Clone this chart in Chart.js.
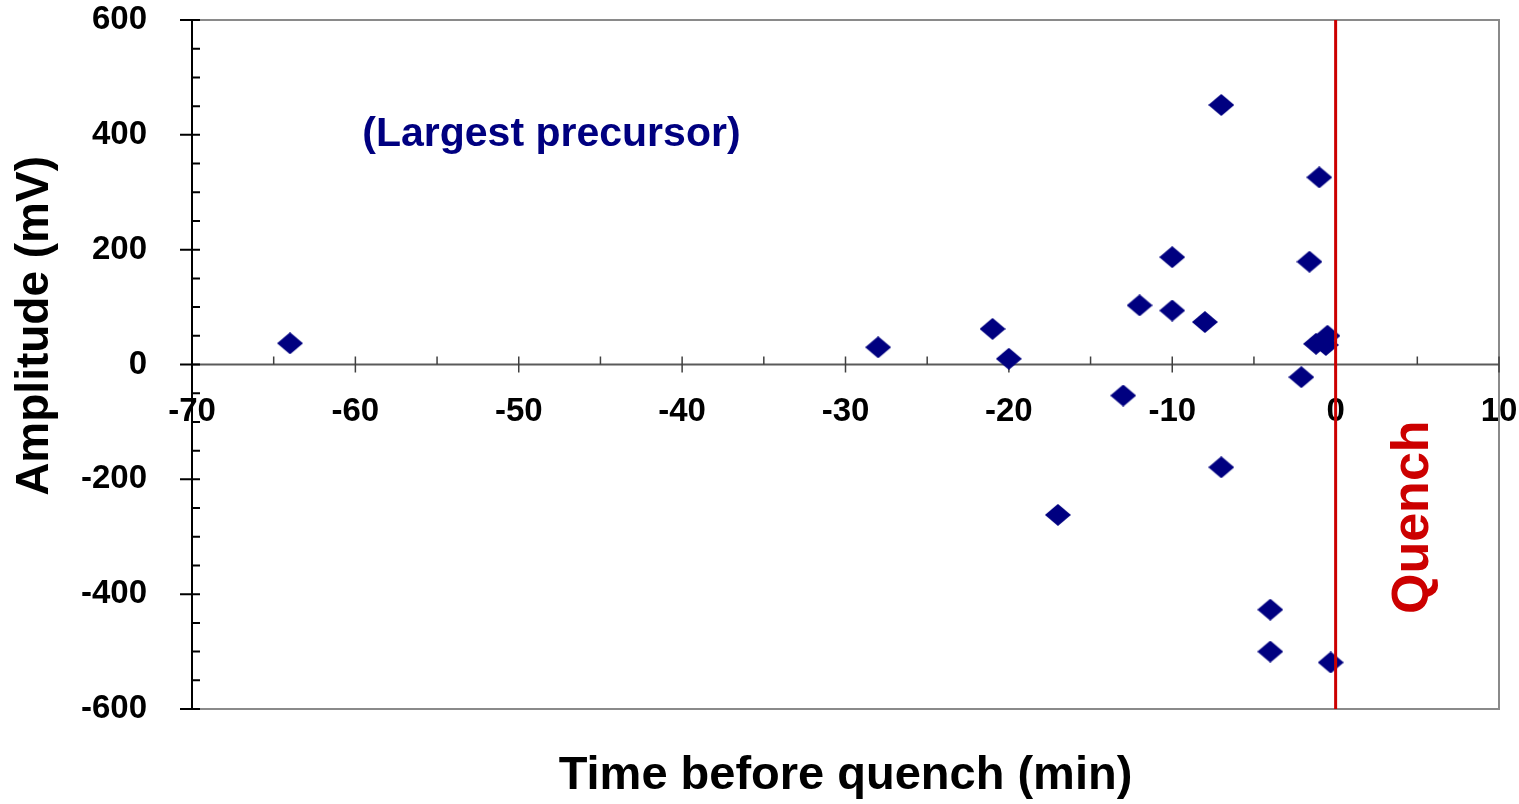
<!DOCTYPE html>
<html lang="en">
<head>
<meta charset="UTF-8">
<title>Largest precursor amplitude before quench</title>
<script src="https://cdn.jsdelivr.net/npm/chart.js"></script>
<style>
    html, body { margin: 0; padding: 0; background: #ffffff; }
    #chart { display: block; }
</style>
</head>
<body>
<canvas id="chart" width="1519" height="804"></canvas>
<script>
    // values
    const timeMin     = [-64, -28, -21, -20, -17, -13, -12, -10, -10, -8, -7, -7, -4, -4, -2.1, -1.6, -1.0, -1.2, -0.6, -0.5, -0.3];
    const amplitudeMv = [37, 30, 62, 10, -262, -54, 103, 187, 94, 74, 452, -179, -427, -500, -22, 179, 326, 36, 34, 50, -519];
    const xTicks = [-70, -60, -50, -40, -30, -20, -10, 0, 10];
    const yTicks = [-600, -400, -200, 0, 200, 400, 600];
    const quenchTime = 0;

    const FONT = '"Liberation Sans", Arial, Helvetica, sans-serif';
    const NAVY = '#000080';
    const RED = '#CC0000';

    // diamond marker, a bit wider than tall like the original
    function makeDiamond(w, h, color) {
        const c = document.createElement('canvas');
        c.width = w; c.height = h;
        const g = c.getContext('2d');
        g.fillStyle = color;
        g.beginPath();
        g.moveTo(0, h / 2);
        g.lineTo(w / 2, 0);
        g.lineTo(w, h / 2);
        g.lineTo(w / 2, h);
        g.closePath();
        g.fill();
        return c;
    }
    const diamond = makeDiamond(26, 22, NAVY);

    const points = timeMin.map((t, i) => ({ x: t, y: amplitudeMv[i] }));

    // the axes should not push the plot area in for their end labels
    function noEdgePadding(s) {
        s.paddingTop = 0;
        s.paddingBottom = 0;
        s.paddingLeft = 0;
        s.paddingRight = 0;
    }

    // frame, axis lines and tick marks (under the markers)
    const framePlugin = {
        id: 'frame',
        beforeDatasetsDraw(chart) {
            const { ctx, chartArea: a, scales } = chart;
            const x = scales.x, y = scales.y;
            ctx.save();

            // grey box on top, right, bottom
            ctx.strokeStyle = '#8a8a8a';
            ctx.lineWidth = 2;
            ctx.beginPath();
            ctx.moveTo(a.left, a.top);
            ctx.lineTo(a.right, a.top);
            ctx.lineTo(a.right, a.bottom);
            ctx.lineTo(a.left, a.bottom);
            ctx.stroke();

            // x axis through zero
            const y0 = y.getPixelForValue(0);
            ctx.strokeStyle = '#5a5a5a';
            ctx.lineWidth = 2;
            ctx.beginPath();
            ctx.moveTo(a.left, y0);
            ctx.lineTo(a.right, y0);
            ctx.stroke();

            ctx.lineWidth = 1.5;
            ctx.strokeStyle = '#404040';
            ctx.beginPath();
            xTicks.forEach((v, i) => {
                const px = x.getPixelForValue(v);
                ctx.moveTo(px, y0 - 8);
                ctx.lineTo(px, y0 + 8);
                if (i < xTicks.length - 1) {
                    const mx = x.getPixelForValue((v + xTicks[i + 1]) / 2);
                    ctx.moveTo(mx, y0 - 8);
                    ctx.lineTo(mx, y0);
                }
            });
            ctx.stroke();

            // y axis line, black
            const x0 = x.getPixelForValue(xTicks[0]);
            ctx.strokeStyle = '#000000';
            ctx.lineWidth = 2;
            ctx.beginPath();
            ctx.moveTo(x0, a.top);
            ctx.lineTo(x0, a.bottom);
            ctx.stroke();

            ctx.beginPath();
            yTicks.forEach((v, i) => {
                const py = y.getPixelForValue(v);
                ctx.moveTo(x0 - 12, py);
                ctx.lineTo(x0 + 8, py);
                if (i < yTicks.length - 1) {
                    for (let k = 1; k < 4; k++) {
                        const my = y.getPixelForValue(v + (yTicks[i + 1] - v) * k / 4);
                        ctx.moveTo(x0, my);
                        ctx.lineTo(x0 + 8, my);
                    }
                }
            });
            ctx.stroke();
            ctx.restore();
        },
        afterDatasetsDraw(chart) {
            const { ctx, chartArea: a, scales } = chart;
            const x = scales.x, y = scales.y;
            ctx.save();

            // y axis title
            ctx.fillStyle = '#000000';
            ctx.font = 'bold 46px ' + FONT;
            ctx.textAlign = 'center';
            ctx.textBaseline = 'middle';
            ctx.translate(35, a.top + (a.bottom - a.top) * 0.444);
            ctx.rotate(-Math.PI / 2);
            ctx.fillText('Amplitude (mV)', 0, 0);
            ctx.setTransform(1, 0, 0, 1, 0, 0);

            // series note
            ctx.fillStyle = NAVY;
            ctx.font = 'bold 41px ' + FONT;
            ctx.fillText('(Largest precursor)', x.getPixelForValue(-48), y.getPixelForValue(400));

            // quench label
            ctx.fillStyle = RED;
            ctx.font = 'bold 52px ' + FONT;
            ctx.translate(x.getPixelForValue(4.8), y.getPixelForValue(-266));
            ctx.rotate(-Math.PI / 2);
            ctx.fillText('Quench', 0, 0);
            ctx.restore();
        }
    };

    const tickFont = { family: FONT, size: 33, weight: 'bold' };

    new Chart(document.getElementById('chart'), {
        type: 'scatter',
        data: {
            datasets: [
                {
                    type: 'line',
                    label: 'Quench',
                    data: [{ x: quenchTime, y: yTicks[0] }, { x: quenchTime, y: yTicks[yTicks.length - 1] }],
                    borderColor: RED,
                    borderWidth: 3,
                    pointRadius: 0,
                    fill: false,
                    order: 1
                },
                {
                    label: 'Largest precursor',
                    data: points,
                    pointStyle: diamond,
                    pointRadius: 12,
                    backgroundColor: NAVY,
                    borderColor: NAVY,
                    order: 2
                }
            ]
        },
        options: {
            responsive: false,
            animation: false,
            devicePixelRatio: 1,
            layout: { padding: { top: 20, right: 20, left: 0, bottom: 0 } },
            plugins: {
                legend: { display: false },
                tooltip: { enabled: false }
            },
            scales: {
                x: {
                    type: 'linear',
                    min: xTicks[0],
                    max: xTicks[xTicks.length - 1],
                    position: 'bottom',
                    grid: { display: false, drawTicks: false },
                    border: { display: false },
                    ticks: { display: false },
                    title: {
                        display: true,
                        text: 'Time before quench (min)',
                        color: '#000000',
                        font: { family: FONT, size: 47, weight: 'bold' },
                        padding: { top: 0, bottom: 0 }
                    },
                    afterFit(s) { s.height = 95; noEdgePadding(s); }
                },
                xLabels: {
                    axis: 'x',
                    type: 'linear',
                    min: xTicks[0],
                    max: xTicks[xTicks.length - 1],
                    position: { y: 0 },
                    grid: { display: false, drawTicks: false },
                    border: { display: false },
                    ticks: { font: tickFont, color: '#000000', padding: 28, maxRotation: 0, autoSkip: false },
                    afterBuildTicks(s) { s.ticks = xTicks.map(v => ({ value: v })); },
                    afterFit(s) { s.height = 0; noEdgePadding(s); }
                },
                y: {
                    type: 'linear',
                    min: yTicks[0],
                    max: yTicks[yTicks.length - 1],
                    grid: { display: false, drawTicks: false },
                    border: { display: false },
                    ticks: { font: tickFont, color: '#000000', padding: 45, autoSkip: false },
                    afterBuildTicks(s) { s.ticks = yTicks.map(v => ({ value: v })); },
                    afterFit(s) { s.width = 192; noEdgePadding(s); }
                }
            }
        },
        plugins: [framePlugin]
    });
</script>
</body>
</html>
